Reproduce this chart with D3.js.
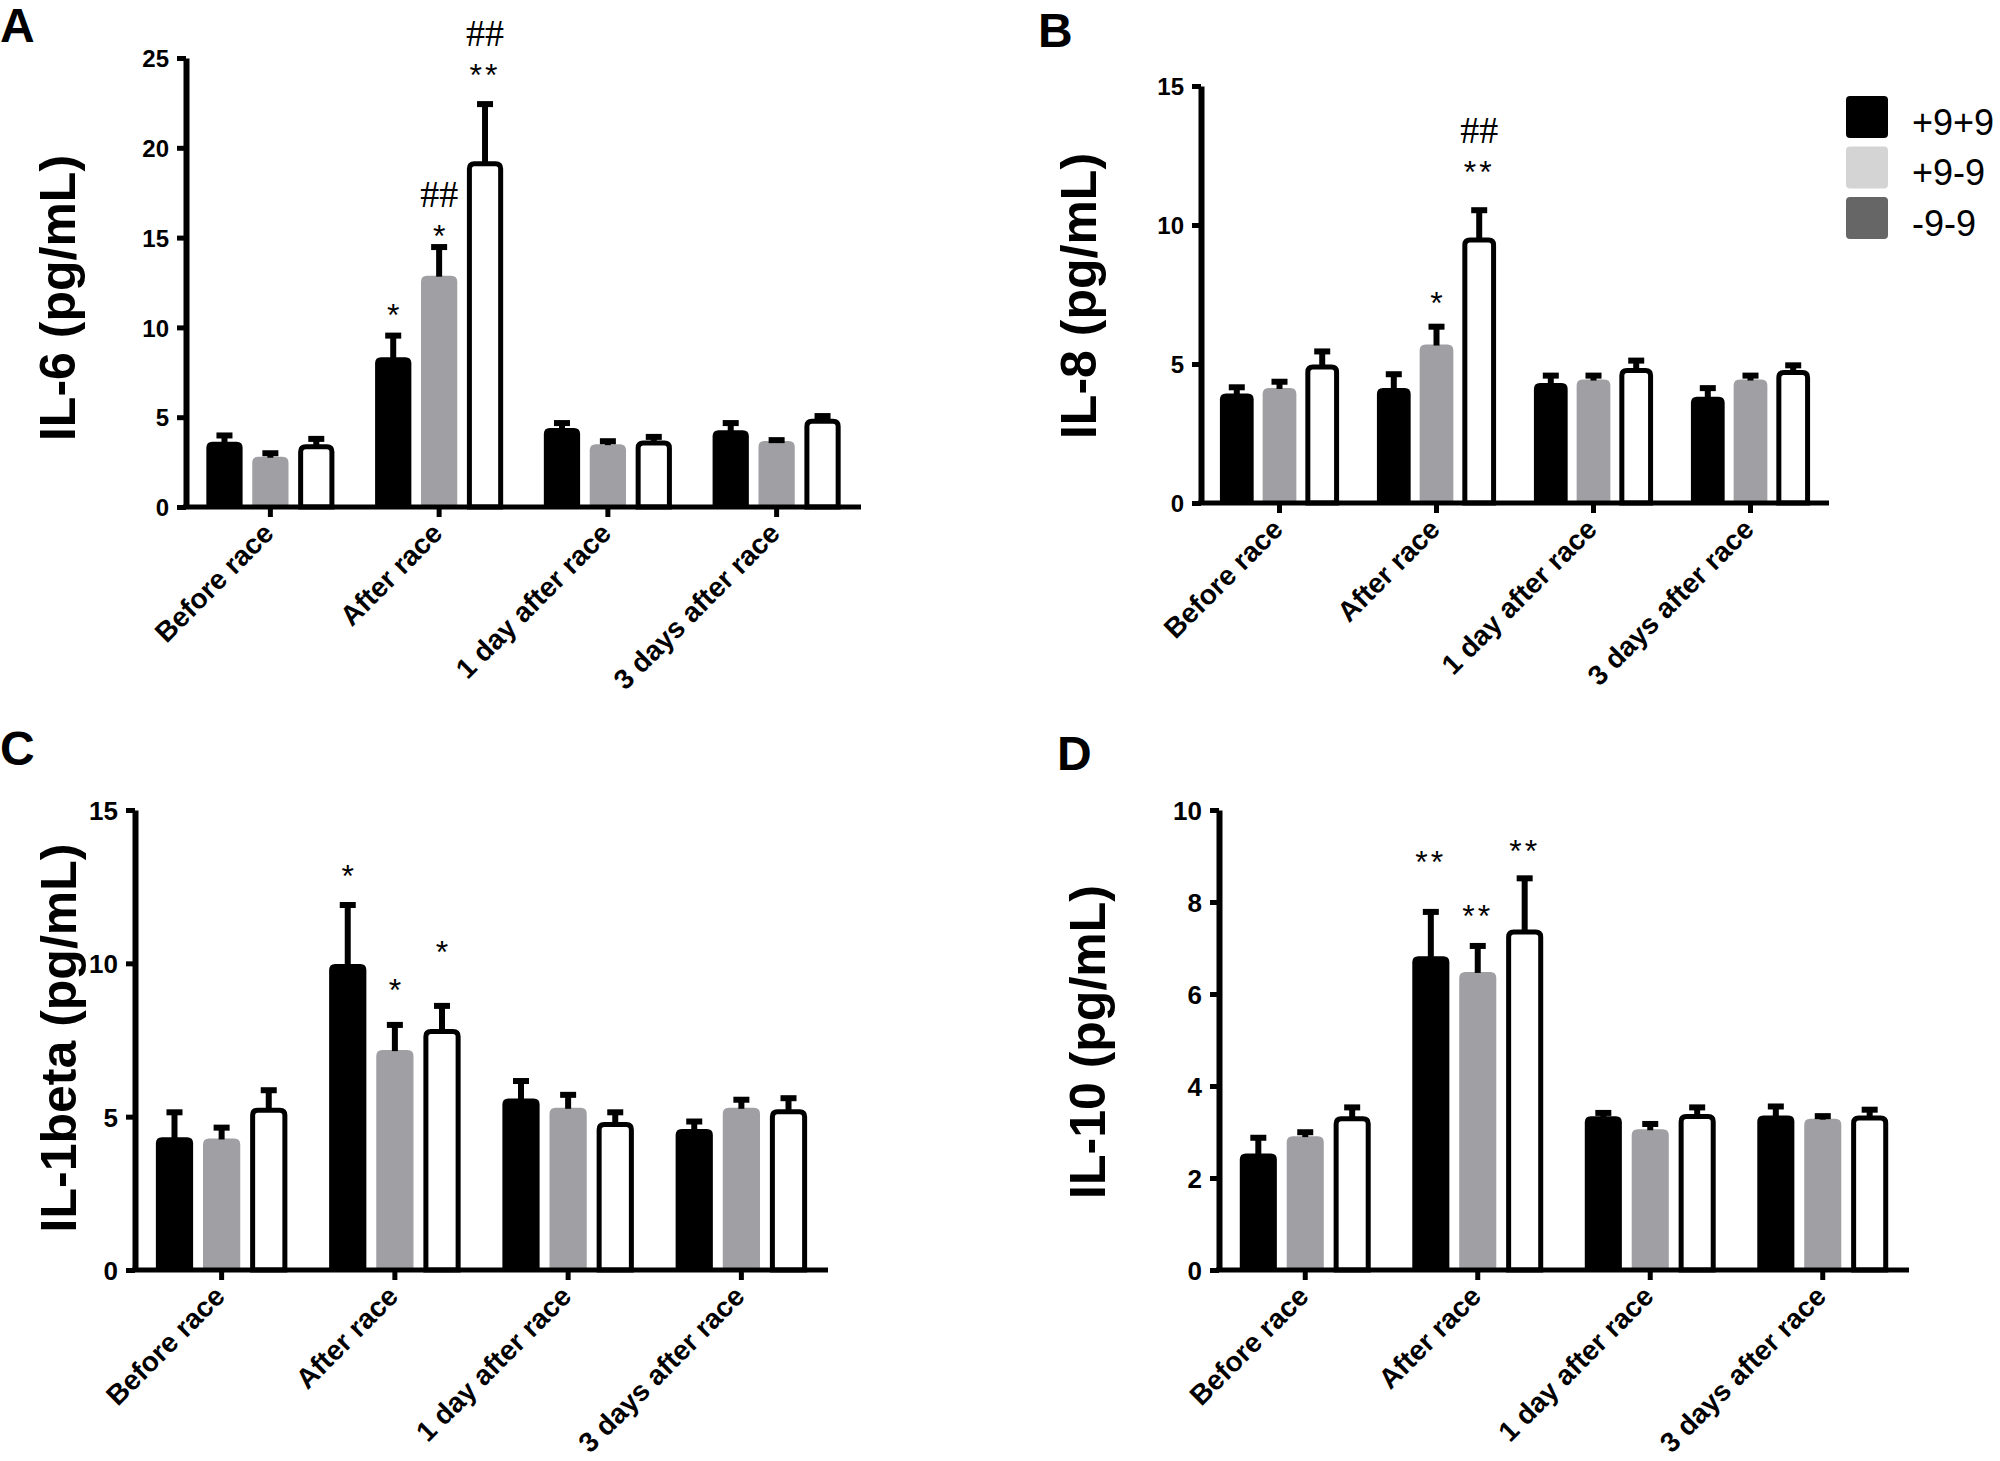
<!DOCTYPE html>
<html>
<head>
<meta charset="utf-8">
<script src="https://cdn.jsdelivr.net/npm/d3@7"></script>
<style>
  body { margin: 0; background: #fff; }
</style>
</head>
<body>
<div id="fig"></div>
<script>
// ---- data ----
const categories = ["Before race", "After race", "1 day after race", "3 days after race"];
const seriesKeys = ["black", "gray", "white"];

const legendLabels = ["+9+9", "+9-9", "-9-9"];
const legendColors = ["#000000", "#d4d4d4", "#666666"];

// rows = series (black, gray, white), columns = categories
const il6Mean = [[3.63, 8.34, 4.40, 4.27], [2.80, 12.88, 3.50, 3.68], [3.50, 19.25, 3.70, 4.92]];
const il6Sem  = [[0.52, 1.37, 0.44, 0.57], [0.36, 1.76, 0.33, 0.21], [0.46, 3.35, 0.37, 0.31]];
const il6Ticks = [0, 5, 10, 15, 20, 25];
const il6Marks = [
  { group: 1, series: 0, text: "*",  at: 11.1 },
  { group: 1, series: 1, text: "*",  at: 15.5 },
  { group: 1, series: 1, text: "##", at: 17.4 },
  { group: 1, series: 2, text: "**", at: 24.47 },
  { group: 1, series: 2, text: "##", at: 26.4 }
];

const il8Mean = [[3.94, 4.14, 4.32, 3.82], [4.14, 5.70, 4.44, 4.44], [4.98, 9.55, 4.86, 4.78]];
const il8Sem  = [[0.33, 0.60, 0.37, 0.42], [0.33, 0.75, 0.25, 0.25], [0.58, 1.09, 0.37, 0.28]];
const il8Ticks = [0, 5, 10, 15];
const il8Marks = [
  { group: 1, series: 1, text: "*",  at: 7.45 },
  { group: 1, series: 2, text: "**", at: 12.16 },
  { group: 1, series: 2, text: "##", at: 13.4 }
];

const il1bMean = [[4.33, 9.98, 5.59, 4.60], [4.29, 7.17, 5.29, 5.29], [5.29, 7.86, 4.83, 5.24]];
const il1bSem  = [[0.91, 2.02, 0.67, 0.34], [0.45, 0.92, 0.52, 0.36], [0.67, 0.85, 0.41, 0.46]];
const il1bTicks = [0, 5, 10, 15];
const il1bMarks = [
  { group: 1, series: 0, text: "*", at: 13.07 },
  { group: 1, series: 1, text: "*", at: 9.35 },
  { group: 1, series: 2, text: "*", at: 10.61 }
];

const il10Mean = [[2.53, 6.82, 3.34, 3.36], [2.91, 6.48, 3.06, 3.29], [3.34, 7.40, 3.39, 3.36]];
const il10Sem  = [[0.41, 1.03, 0.14, 0.26], [0.15, 0.63, 0.18, 0.12], [0.26, 1.18, 0.21, 0.19]];
const il10Ticks = [0, 2, 4, 6, 8, 10];
const il10Marks = [
  { group: 1, series: 0, text: "**", at: 9.02 },
  { group: 1, series: 1, text: "**", at: 7.85 },
  { group: 1, series: 2, text: "**", at: 9.27 }
];

// ---- layout ----
const W = 2000, H = 1461;
const sans = "'Liberation Sans', Arial, Helvetica, sans-serif";
const serif = "'Liberation Serif', 'Times New Roman', serif";
const barFill = { black: "#000000", gray: "#a0a0a4", white: "#ffffff" };

const panels = [
  { letter: "A", title: "IL-6 (pg/mL)", mean: il6Mean, sem: il6Sem, ticks: il6Ticks, marks: il6Marks,
    x0: 186, x1: 861, yTop: 58, yBot: 507, letterX: 0, letterY: 42, titleX: 57, titleY: 298, tickFont: 24 },
  { letter: "B", title: "IL-8 (pg/mL)", mean: il8Mean, sem: il8Sem, ticks: il8Ticks, marks: il8Marks,
    x0: 1201, x1: 1829, yTop: 86, yBot: 503, letterX: 1038, letterY: 47, titleX: 1078, titleY: 296, tickFont: 24 },
  { letter: "C", title: "IL-1beta (pg/mL)", mean: il1bMean, sem: il1bSem, ticks: il1bTicks, marks: il1bMarks,
    x0: 135, x1: 828, yTop: 810, yBot: 1270, letterX: 0, letterY: 765, titleX: 58, titleY: 1038, tickFont: 26 },
  { letter: "D", title: "IL-10 (pg/mL)", mean: il10Mean, sem: il10Sem, ticks: il10Ticks, marks: il10Marks,
    x0: 1219, x1: 1909, yTop: 810, yBot: 1270, letterX: 1057, letterY: 770, titleX: 1087, titleY: 1042, tickFont: 26 }
];

const svg = d3.select("#fig").append("svg")
  .attr("width", W)
  .attr("height", H)
  .style("background", "#fff");

// bar with rounded top corners only
function barPath(x, yBase, w, yTop, r) {
  r = Math.max(0, Math.min(r, w / 2, yBase - yTop));
  return `M${x},${yBase}V${yTop + r}Q${x},${yTop} ${x + r},${yTop}` +
         `H${x + w - r}Q${x + w},${yTop} ${x + w},${yTop + r}V${yBase}Z`;
}

panels.forEach(p => {
  const g = svg.append("g");

  const y = d3.scaleLinear()
    .domain([0, d3.max(p.ticks)])
    .range([p.yBot, p.yTop]);

  const x = d3.scaleBand()
    .domain(categories)
    .range([p.x0, p.x1]);

  const xs = d3.scaleBand()
    .domain(seriesKeys)
    .range([0, x.bandwidth()])
    .paddingInner(0.21)
    .paddingOuter(0.443);

  const bw = xs.bandwidth();

  // flatten into bar records
  const bars = [];
  seriesKeys.forEach((s, i) => {
    categories.forEach((c, j) => {
      bars.push({ s, i, j, c, mean: p.mean[i][j], sem: p.sem[i][j] });
    });
  });

  // bars
  g.selectAll("path.bar")
    .data(bars)
    .join("path")
    .attr("class", "bar")
    .attr("d", d => {
      const bx = x(d.c) + xs(d.s);
      if (d.s === "white") {
        return barPath(bx + 2.5, p.yBot, bw - 5, y(d.mean) + 2.5, 5);
      }
      return barPath(bx, p.yBot, bw, y(d.mean), 6);
    })
    .attr("fill", d => barFill[d.s])
    .attr("stroke", d => d.s === "white" ? "#000" : "none")
    .attr("stroke-width", 5);

  // error bars (upper only)
  const err = g.selectAll("g.err")
    .data(bars)
    .join("g")
    .attr("class", "err")
    .attr("transform", d => `translate(${x(d.c) + xs(d.s) + bw / 2},0)`);

  err.append("line")
    .attr("x1", 0).attr("x2", 0)
    .attr("y1", d => y(d.mean) + 1)
    .attr("y2", d => y(d.mean + d.sem) + 2)
    .attr("stroke", "#000")
    .attr("stroke-width", 6);

  err.append("rect")
    .attr("x", -8)
    .attr("width", 16)
    .attr("y", d => y(d.mean + d.sem))
    .attr("height", 6)
    .attr("fill", "#000");

  // y axis
  const yAxis = g.append("g")
    .attr("transform", `translate(${p.x0},0)`)
    .call(d3.axisLeft(y).tickValues(p.ticks).tickSize(9).tickSizeOuter(0).tickPadding(8));
  yAxis.select(".domain").attr("stroke", "#000").attr("stroke-width", 6);
  yAxis.selectAll(".tick line").attr("stroke", "#000").attr("stroke-width", 5);
  yAxis.selectAll(".tick text")
    .attr("font-family", sans)
    .attr("font-weight", "bold")
    .attr("font-size", p.tickFont)
    .attr("fill", "#000")
    .attr("dy", "0.36em");

  // x axis
  const xAxis = g.append("g")
    .attr("transform", `translate(0,${p.yBot})`)
    .call(d3.axisBottom(x).tickSize(10).tickSizeOuter(0));
  xAxis.select(".domain").attr("stroke", "#000").attr("stroke-width", 5)
    .attr("d", `M${p.x0 - 3},0H${p.x1}`);
  xAxis.selectAll(".tick line").attr("stroke", "#000").attr("stroke-width", 5);
  xAxis.selectAll(".tick text")
    .attr("x", null).attr("y", null).attr("dy", null)
    .attr("text-anchor", "end")
    .attr("transform", "translate(5,28) rotate(-45)")
    .attr("font-family", sans)
    .attr("font-weight", "bold")
    .attr("font-size", 28)
    .attr("fill", "#000");
  g.selectAll(".tick text").style("font-family", sans);

  // significance marks
  g.selectAll("text.mark")
    .data(p.marks)
    .join("text")
    .attr("class", "mark")
    .attr("x", d => x(categories[d.group]) + xs(seriesKeys[d.series]) + bw / 2)
    .attr("y", d => d.text.startsWith("#") ? y(d.at) + 13 : y(d.at) + 18)
    .attr("text-anchor", "middle")
    .attr("font-family", d => d.text.startsWith("#") ? serif : sans)
    .attr("font-size", d => d.text.startsWith("#") ? 38 : 32)
    .attr("letter-spacing", d => d.text === "**" ? 3 : 0)
    .attr("fill", "#000")
    .text(d => d.text);

  // y title
  g.append("text")
    .attr("transform", `translate(${p.titleX},${p.titleY}) rotate(-90)`)
    .attr("text-anchor", "middle")
    .attr("dy", "0.36em")
    .attr("font-family", sans)
    .attr("font-weight", "bold")
    .attr("font-size", 50)
    .attr("fill", "#000")
    .text(p.title);

  // panel letter
  g.append("text")
    .attr("x", p.letterX)
    .attr("y", p.letterY)
    .attr("font-family", sans)
    .attr("font-weight", "bold")
    .attr("font-size", 48)
    .attr("fill", "#000")
    .text(p.letter);
});

// legend (panel B)
const legendY = d3.scalePoint()
  .domain(legendLabels)
  .range([117, 218]);

const legend = svg.append("g")
  .selectAll("g")
  .data(legendLabels)
  .join("g")
  .attr("transform", d => `translate(1846,${legendY(d)})`);

legend.append("rect")
  .attr("x", 0)
  .attr("y", -21)
  .attr("width", 42)
  .attr("height", 42)
  .attr("rx", 4)
  .attr("fill", (d, i) => legendColors[i]);

legend.append("text")
  .attr("x", 66)
  .attr("y", 5)
  .attr("dy", "0.36em")
  .attr("font-family", sans)
  .attr("font-size", 36)
  .attr("fill", "#000")
  .text(d => d);
</script>
</body>
</html>
